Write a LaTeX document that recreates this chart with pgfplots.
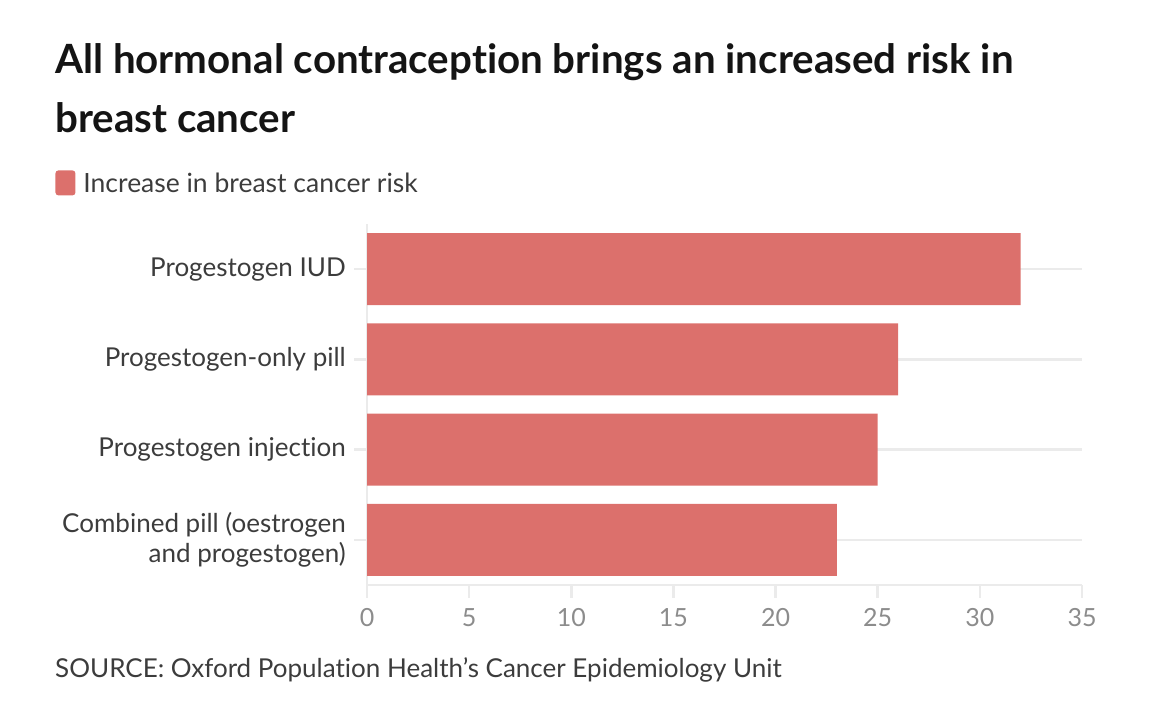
\documentclass[border=0pt]{standalone}
\usepackage{pgfplots}
\pgfplotsset{compat=1.18}
\usepackage{fontspec}
\setmainfont{Lato}[Ligatures=NoCommon]
\definecolor{barred}{RGB}{220,112,108}
\definecolor{gridgray}{RGB}{235,235,235}
\definecolor{labelgray}{RGB}{60,60,60}
\definecolor{tickgray}{RGB}{140,140,140}
\definecolor{titleblack}{RGB}{20,20,20}
\begin{document}
\begin{tikzpicture}
\useasboundingbox (0,0) rectangle (1150bp,-714bp);
% title and source
\node[anchor=base west, inner sep=0, text=titleblack, font=\fontsize{40.3bp}{46bp}\selectfont\bfseries] at (55bp,-73bp) {All hormonal contraception brings an increased risk in};
\node[anchor=base west, inner sep=0, text=titleblack, font=\fontsize{40.3bp}{46bp}\selectfont\bfseries] at (55bp,-132bp) {breast cancer};
\node[anchor=base west, inner sep=0, text=labelgray, font=\fontsize{26bp}{30bp}\selectfont] at (55bp,-677bp) {SOURCE: Oxford Population Health’s Cancer Epidemiology Unit};
\begin{axis}[
  at={(367bp,-585bp)}, anchor=south west,
  scale only axis, width=715bp, height=361bp,
  xbar, bar width=72bp,
  xmin=0, xmax=35, ymin=-0.5, ymax=3.5,
  xtick={0,5,...,35}, ytick={0,1,2,3},
  yticklabels={{Combined pill (oestrogen\\and progestogen)},{Progestogen injection},{Progestogen-only pill},{Progestogen IUD}},
  yticklabel style={align=right, text=labelgray, font=\fontsize{26bp}{30bp}\selectfont, inner sep=0pt, xshift=-8bp},
  xticklabel style={text=tickgray, font=\fontsize{25bp}{30bp}\selectfont, inner sep=0pt, yshift=-10bp},
  /pgf/number format/assume math mode=true,
  axis x line*=bottom, axis y line*=left,
  axis line style={draw=gridgray, line width=2.5bp},
  tick style={draw=gridgray, line width=2.5bp},
  tick align=outside, major tick length=13bp,
  ymajorgrids, grid style={draw=gridgray, line width=2.5bp},
  legend style={at={(-0.436,1.149)}, anchor=north west, draw=none, fill=none,
    font=\fontsize{26.5bp}{30bp}\selectfont, text=labelgray, inner sep=0pt,
    /tikz/every odd column/.append style={column sep=6bp}},
  legend cell align=left,
  legend image code/.code={\fill[barred, rounded corners=3bp] (0bp,-12bp) rectangle (20bp,13bp);},
]
\addplot[fill=barred, draw=none] coordinates {(23,0) (25,1) (26,2) (32,3)};
\addlegendentry{Increase in breast cancer risk}
\end{axis}
\end{tikzpicture}
\end{document}
